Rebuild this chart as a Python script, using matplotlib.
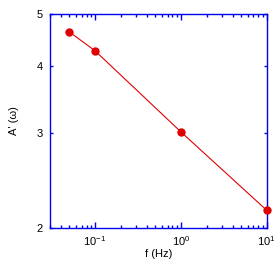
import matplotlib
matplotlib.use("Agg")
import matplotlib.pyplot as plt
from matplotlib.ticker import LogLocator, FixedLocator, NullLocator, LogFormatterMathtext, FixedFormatter

freq = [0.05, 0.1, 1.0, 10.0]
amp = [4.63, 4.27, 3.02, 2.16]
yticks = [2, 3, 4, 5]
ytick_labels = ["2", "3", "4", "5"]

plt.rcParams['font.family'] = ['Liberation Sans', 'DejaVu Sans']
plt.rcParams['mathtext.fontset'] = 'custom'
plt.rcParams['mathtext.rm'] = 'Liberation Sans'
plt.rcParams['mathtext.it'] = 'Liberation Sans'
plt.rcParams['mathtext.default'] = 'regular'
blue = '#0000ee'
red = '#e00000'

fig = plt.figure(figsize=(2.8, 2.67), dpi=100)
ax = fig.add_axes([50/280, 1 - 228.3/267, (266.7-50)/280, (228.3-13.7)/267])
ax.set_xscale('log')
ax.set_yscale('log')
ax.plot(freq, amp, color=red, lw=0.8, marker='o', ms=5, mfc=red, mec=red, clip_on=False, zorder=3)
ax.set_xlim(0.03, 10)
ax.set_ylim(2, 5)

ax.xaxis.set_major_locator(LogLocator(base=10, numticks=10))
ax.xaxis.set_minor_locator(LogLocator(base=10, subs=range(2, 10), numticks=20))
ax.xaxis.set_major_formatter(LogFormatterMathtext())
ax.yaxis.set_major_locator(FixedLocator(yticks))
ax.yaxis.set_major_formatter(FixedFormatter(ytick_labels))
ax.yaxis.set_minor_locator(NullLocator())

for s in ax.spines.values():
    s.set_color(blue)
    s.set_linewidth(1.0)
ax.tick_params(which='both', direction='in', top=True, right=True, colors=blue, labelcolor='black', labelsize=8)
ax.tick_params(axis='x', which='major', length=4.5, width=1)
ax.tick_params(axis='x', which='minor', length=2.5, width=1)
ax.tick_params(axis='y', which='major', length=2.5, width=1)
ax.tick_params(axis='x', pad=4)
ax.tick_params(axis='y', pad=5)

ax.set_xlabel('f (Hz)', fontsize=8, labelpad=1)
ax.set_ylabel("A' (ω)", fontsize=8, labelpad=13)

fig.savefig('out.png', dpi=100)
